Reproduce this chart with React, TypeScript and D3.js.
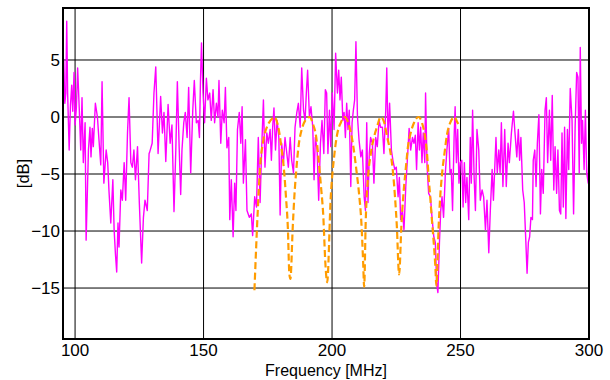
import React from 'react';
import * as d3 from 'd3';

const xTicks = [100, 150, 200, 250, 300];
const yTicks = [5, 0, -5, -10, -15];
const xDomain: [number, number] = [95.3, 300];
const yDomain: [number, number] = [-19.47, 9.56];

// measured response, [MHz, dB]
const measured: [number, number][] = [
  [95.3, 1.5], [95.6, 5.0], [96.0, 1.2], [96.4, 2.1], [96.75, 8.4], [97.1, 2.1], [97.7, -2.9], [98.2, 1.0],
  [98.7, 2.8], [99.1, 0.5], [99.6, 3.9], [100.0, -0.7], [100.5, 0.8], [101.0, 4.3], [101.6, 0.9], [102.2, -2.9],
  [102.7, 1.7], [103.2, -4.0], [103.9, -0.5], [104.3, -10.8], [105.2, -2.9], [105.8, -0.9], [106.2, -3.5],
  [106.7, -1.0], [107.1, -2.6], [107.9, 1.2], [108.7, 0.0], [109.3, -2.0], [110.0, -4.2], [110.5, 3.1],
  [111.2, -5.8], [112.1, -2.9], [112.7, -4.0], [113.2, -6.5], [113.9, -9.3], [114.7, -5.5], [115.2, -9.9],
  [115.7, -12.0], [116.2, -13.6], [116.7, -9.3], [117.1, -11.4], [117.8, -6.4], [118.4, -7.3], [119.1, -4.0],
  [119.7, -7.3], [120.4, -1.4], [121.0, 1.7], [121.7, -4.0], [122.3, -4.4], [122.9, -2.9], [123.5, -5.5],
  [124.3, -2.6], [125.0, -7.5], [125.9, -12.8], [126.6, -8.8], [127.2, -7.3], [128.1, -8.2], [128.8, -3.2],
  [129.0, -3.1], [130.0, -2.3], [130.7, 2.1], [131.4, 4.4], [132.3, -3.2], [133.3, 1.8], [134.0, -1.4],
  [134.6, 0.4], [135.3, -3.9], [136.2, 1.1], [137.0, -2.3], [137.7, -0.7], [138.5, -8.3], [139.2, -2.9],
  [139.8, 3.1], [140.5, -2.6], [141.1, -6.8], [141.6, -2.9], [142.3, -0.5], [142.9, 0.4], [143.6, -1.8],
  [144.2, 2.6], [145.0, -4.9], [145.8, 0.6], [146.4, 3.2], [147.2, -0.5], [147.9, -0.3], [148.4, -1.8],
  [148.8, 3.2], [149.2, 6.5], [149.8, 2.1], [150.4, -0.5], [151.1, 3.4], [151.7, 1.5], [152.4, 2.1],
  [153.0, -0.3], [153.7, 2.4], [154.3, -0.5], [155.0, 1.2], [155.6, 0.0], [156.0, 3.2], [156.7, -2.3],
  [157.3, 0.6], [158.0, -0.5], [158.5, 2.6], [159.1, -2.7], [159.8, -1.8], [160.2, -9.0], [160.8, -5.5],
  [161.5, -10.5], [162.1, -5.8], [162.6, -8.2], [163.2, -1.1], [163.9, 0.4], [164.5, -2.3], [165.0, 0.9],
  [165.5, -5.8], [166.3, -2.0], [166.9, -8.2], [167.8, -8.8], [168.6, -8.5], [169.1, -10.4], [169.9, -7.0],
  [170.6, -7.9], [171.3, -1.8], [172.0, -7.5], [172.6, -2.9], [173.3, 1.5], [173.9, -4.4], [174.6, -1.4],
  [175.2, -2.3], [175.9, -1.1], [176.4, -3.8], [176.9, -0.9], [177.4, 0.8], [178.0, -2.9], [178.6, -0.3],
  [179.3, -1.8], [179.8, -8.6], [180.4, -2.3], [181.1, -4.0], [181.7, -1.8], [182.4, -3.2], [183.0, -4.4],
  [183.7, -1.8], [184.3, -3.8], [185.0, -4.9], [185.6, -0.9], [186.3, 0.4], [186.9, 1.2], [187.6, -0.9],
  [188.2, 4.3], [188.9, 0.6], [189.5, -0.3], [190.0, 2.1], [190.5, 4.1], [191.2, 0.0], [191.8, 0.9],
  [192.5, -0.9], [193.0, -5.5], [193.5, -1.8], [194.2, -2.9], [194.8, -7.3], [195.5, -2.3], [196.1, -0.3],
  [196.8, -3.2], [197.4, 2.4], [197.9, 2.1], [198.4, -3.2], [199.0, 0.6], [199.5, -2.6], [200.1, 2.1],
  [200.8, -1.1], [201.4, 5.6], [202.1, 2.1], [202.6, 4.1], [203.1, 1.5], [203.6, 3.5], [204.2, -0.3],
  [204.7, 0.4], [205.2, -1.8], [205.7, 1.2], [206.2, -1.1], [206.7, 0.6], [207.3, -6.1], [207.8, -0.5],
  [208.3, 0.6], [208.8, 1.5], [209.3, 6.6], [209.9, 0.0], [210.5, -2.0], [211.2, -3.5], [211.8, -2.9],
  [212.5, -7.0], [213.0, -8.2], [213.5, -0.5], [214.0, -7.5], [214.5, -3.2], [215.0, -1.8], [215.7, -2.3],
  [216.3, -5.8], [217.0, -1.8], [217.6, -2.6], [218.3, -0.3], [218.9, -0.9], [219.6, -0.9], [220.2, -3.2],
  [220.9, 0.6], [221.3, 4.3], [221.8, -2.0], [222.4, 1.2], [223.1, -2.9], [223.7, -3.8], [224.4, -4.6],
  [225.0, -4.4], [225.7, -7.0], [226.2, -5.3], [226.7, -9.0], [227.4, -8.2], [228.0, -9.9], [228.7, -6.1],
  [229.3, -3.8], [230.0, -1.0], [230.6, -2.9], [231.3, -1.8], [231.9, -2.3], [232.4, -1.6], [232.9, -4.6],
  [233.5, -0.5], [234.0, -2.9], [234.5, -0.9], [235.0, -4.0], [235.5, -1.4], [236.1, -4.0], [236.4, 2.1],
  [237.0, -4.4], [237.6, -6.7], [238.3, -7.0], [238.9, -8.8], [239.6, -10.5], [240.2, -11.0], [240.7, -14.6],
  [241.2, -15.4], [241.8, -11.0], [242.3, -8.2], [242.8, -7.0], [243.4, -8.8], [244.1, -4.9], [244.7, -2.9],
  [245.4, -1.0], [245.9, -4.9], [246.4, -4.6], [246.9, -8.2], [247.5, -1.8], [247.9, 0.9], [248.4, -4.0],
  [248.9, -1.1], [249.4, -5.8], [249.9, -4.0], [250.5, -3.8], [251.0, -7.9], [251.5, -4.0], [252.0, -7.5],
  [252.5, -5.3], [253.2, -9.0], [253.8, -1.8], [254.2, -5.8], [254.7, 0.6], [255.3, -5.3], [255.8, -8.2],
  [256.4, -1.1], [257.1, -2.9], [257.7, -7.3], [258.4, -6.4], [259.0, -7.0], [259.7, -9.9], [260.3, -7.3],
  [261.0, -11.9], [261.6, -8.2], [262.3, -4.6], [262.8, -7.3], [263.3, -4.6], [263.8, -1.8], [264.3, -4.9],
  [264.9, -2.9], [265.4, -4.9], [265.9, -0.5], [266.5, -6.1], [267.2, -1.1], [267.8, -6.1], [268.5, -2.3],
  [269.0, -4.0], [269.8, -1.4], [270.6, 0.5], [271.2, -1.4], [271.9, -3.5], [272.5, -1.1], [273.0, -3.8],
  [273.5, -1.8], [274.2, -6.4], [274.8, -7.5], [275.4, -10.8], [275.9, -13.7], [276.4, -11.0], [276.9, -10.5],
  [277.4, -8.8], [278.0, -9.0], [278.3, -3.8], [278.9, -2.9], [279.4, -6.1], [279.9, -2.3], [280.5, 0.2],
  [281.1, -8.5], [281.6, -4.6], [282.2, -6.7], [282.9, 0.6], [283.4, 1.7], [283.9, -4.0], [284.6, 0.6],
  [285.1, -3.8], [285.7, 1.9], [286.3, -6.4], [286.8, -2.6], [287.4, -6.7], [287.9, -2.9], [288.5, -8.2],
  [289.0, -8.5], [289.5, -1.4], [290.0, -7.9], [290.5, -0.9], [291.0, -8.9], [291.6, -1.1], [292.1, -4.6],
  [292.7, 2.5], [293.4, -0.3], [294.0, -8.5], [294.6, -0.9], [295.2, 3.9], [295.7, 3.5], [296.2, -4.9],
  [296.6, 6.1], [297.1, -2.3], [297.5, -0.3], [298.1, -4.6], [298.6, 0.6], [299.1, -4.9], [299.7, -5.8],
  [300.0, -3.0],
];

// model response (dashed), [MHz, dB]
const model: [number, number][] = [
  [169.8, -15.2], [171.1, -8.2], [172.0, -4.4], [173.3, -2.0], [175.0, -0.7], [176.9, -0.1], [177.5, 0],
  [178.9, -0.7], [180.2, -2.5], [181.4, -4.9], [182.1, -7.1], [182.8, -9.7], [183.4, -13.8], [183.8, -14.2],
  [184.7, -9.7], [185.3, -7.1], [186.0, -4.9], [187.0, -2.5], [188.2, -1.1], [189.6, -0.3], [191.2, 0],
  [192.7, -0.7], [193.8, -1.7], [194.8, -3.8], [195.7, -6.1], [196.6, -8.7], [197.4, -12.8], [198.1, -14.5],
  [199.5, -7.0], [200.8, -3.5], [202.1, -1.4], [203.4, -0.5], [204.9, 0], [206.6, -0.7], [208.3, -2.6],
  [209.5, -4.7], [210.5, -6.7], [211.4, -9.2], [212.1, -12.7], [212.5, -14.9], [213.1, -9.2], [214.0, -5.3],
  [215.1, -3.2], [216.3, -1.8], [217.6, -0.8], [218.9, 0], [220.2, -0.4], [221.5, -1.8], [222.8, -3.2],
  [223.7, -4.8], [224.5, -7.0], [225.2, -9.5], [226.1, -13.8], [227.0, -9.5], [227.7, -7.0], [228.7, -4.5],
  [229.6, -2.5], [230.6, -1.4], [231.9, -0.5], [233.7, 0], [235.0, -0.5], [236.1, -1.6], [237.0, -3.3],
  [237.6, -5.3], [238.2, -7.0], [238.9, -9.1], [239.6, -11.1], [240.2, -13.1], [240.6, -14.8], [241.5, -9.5],
  [242.1, -7.0], [242.8, -5.0], [243.7, -3.3], [244.7, -1.6], [246.0, -0.5], [247.7, 0], [248.6, -0.4],
  [249.3, -0.7],
];

const fmt = (v: number) => (v < 0 ? `\u2212${Math.abs(v)}` : `${v}`);

export default function App() {
  const width = 610;
  const height = 380;
  const margin = { top: 8, right: 21, bottom: 41, left: 63 };
  const font = '"Liberation Sans", Arial, sans-serif';

  const x = d3.scaleLinear().domain(xDomain).range([margin.left, width - margin.right]);
  const y = d3.scaleLinear().domain(yDomain).range([height - margin.bottom, margin.top]);

  const [x0, x1] = x.range();
  const [y0, y1] = y.range();

  const line = d3.line<[number, number]>().x(d => x(d[0])).y(d => y(d[1]));
  const modelLine = d3.line<[number, number]>()
    .x(d => x(d[0]))
    .y(d => y(d[1]))
    .curve(d3.curveMonotoneX);

  return (
    <svg width={width} height={height} style={{ position: 'absolute', left: 0, top: 0, background: '#fff' }}>
      <defs>
        <clipPath id="plot">
          <rect x={x0} y={y1} width={x1 - x0} height={y0 - y1} />
        </clipPath>
      </defs>

      {/* grid */}
      {yTicks.map(t => (
        <line key={`gy${t}`} x1={x0} x2={x1} y1={y(t)} y2={y(t)} stroke="#000" strokeWidth={1} />
      ))}
      {xTicks.map(t => (
        <line key={`gx${t}`} x1={x(t)} x2={x(t)} y1={y1} y2={y0} stroke="#000" strokeWidth={1} />
      ))}

      {/* traces */}
      <g clipPath="url(#plot)">
        <path d={line(measured) ?? ''} fill="none" stroke="#ff00ff" strokeWidth={1.4} strokeLinejoin="round" />
        <path d={modelLine(model) ?? ''} fill="none" stroke="#ff9c00" strokeWidth={2.2} strokeDasharray="7 3.5" />
      </g>

      {/* frame */}
      <rect x={x0} y={y1} width={x1 - x0} height={y0 - y1} fill="none" stroke="#000" strokeWidth={2} />

      {/* tick labels */}
      {yTicks.map(t => (
        <text key={`ly${t}`} x={x0 - 3} y={y(t)} dy="0.36em" textAnchor="end"
          fontFamily={font} fontSize={17} fill="#000">{fmt(t)}</text>
      ))}
      {xTicks.map(t => (
        <text key={`lx${t}`} x={x(t)} y={356} textAnchor="middle"
          fontFamily={font} fontSize={17} fill="#000">{fmt(t)}</text>
      ))}

      {/* axis titles */}
      <text x={(x0 + x1) / 2} y={375.5} textAnchor="middle" fontFamily={font} fontSize={16} fill="#000">
        Frequency [MHz]
      </text>
      <text transform={`translate(29,${(y0 + y1) / 2}) rotate(-90)`} textAnchor="middle"
        fontFamily={font} fontSize={16.5} fill="#000">
        [dB]
      </text>
    </svg>
  );
}
